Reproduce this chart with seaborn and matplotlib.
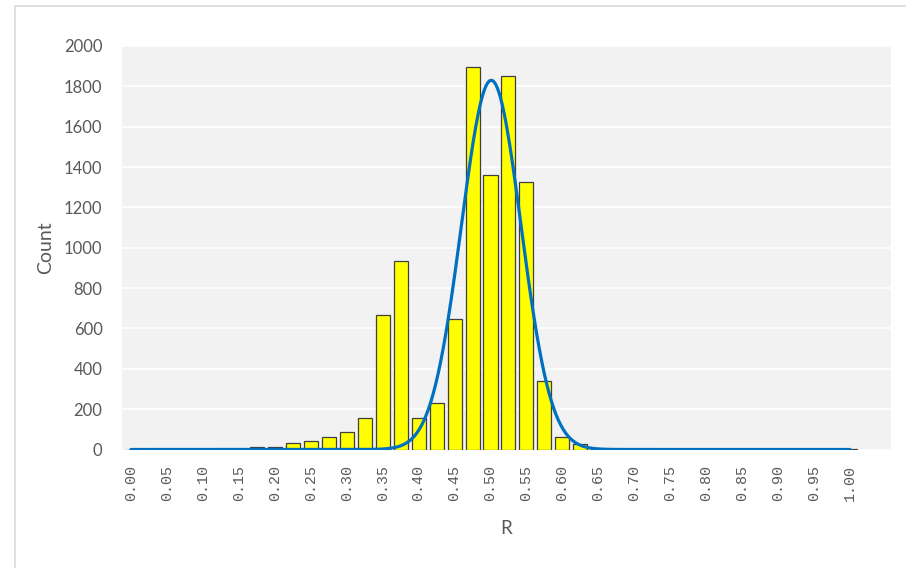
import numpy as np
import pandas as pd
import matplotlib
matplotlib.use("Agg")
import matplotlib.pyplot as plt
from matplotlib.patches import Rectangle
import seaborn as sns

# Histogram of R in bins of 0.025
r_bins = [round(0.025 * i, 3) for i in range(41)]
counts = [0, 0, 0, 0, 0, 0, 3, 10, 12, 32,
          42, 63, 87, 155, 665, 935, 155, 230, 645, 1895,
          1360, 1850, 1325, 340, 60, 27, 3, 1, 1, 0,
          0, 0, 0, 0, 2, 0, 2, 0, 2, 0,
          2]

# Fitted normal curve parameters
fit_mean = 0.501
fit_sd = 0.0415
fit_peak = 1830

x_ticks = [round(0.05 * i, 2) for i in range(21)]
x_tick_labels = [f"{v:.2f}" for v in x_ticks]
y_ticks = list(range(0, 2001, 200))

sns.set_theme(style="white")
plt.rcParams["font.family"] = ["Lato", "DejaVu Sans"]

W, H, DPI = 906, 568, 100
fig = plt.figure(figsize=(W / DPI, H / DPI), dpi=DPI)
fig.patch.set_facecolor("white")

# chart frame
fig.patches.append(Rectangle((15 / W, -0.1), 1.2, 1 - 6 / H + 0.1,
                             transform=fig.transFigure, fill=False,
                             edgecolor="#D9D9D9", linewidth=1.2))

ax = fig.add_axes([122 / W, 1 - 449.5 / H, (891 - 122) / W, (449.5 - 46) / H])
ax.set_facecolor("#F2F2F2")

df = pd.DataFrame({"R": r_bins, "Count": counts})
sns.barplot(data=df, x="R", y="Count", native_scale=True, width=0.78,
            color="#FFFF00", saturation=1, edgecolor="#3F3F3F",
            linewidth=0.9, ax=ax, zorder=3)

xs = np.linspace(0, 1.0, 600)
curve = pd.DataFrame({"R": xs,
                      "Count": fit_peak * np.exp(-0.5 * ((xs - fit_mean) / fit_sd) ** 2)})
sns.lineplot(data=curve, x="R", y="Count", color="#0070C0", linewidth=2.3,
             ax=ax, zorder=4)

ax.set_xlim(-0.0125, 1.057)
ax.set_ylim(0, 2000)
ax.set_yticks(y_ticks)
ax.set_yticklabels([str(v) for v in y_ticks], fontsize=12, color="#595959",
                   family=["Lato", "DejaVu Sans"])
ax.set_xticks(x_ticks)
ax.set_xticklabels(x_tick_labels, rotation=90, fontsize=10.8, color="#595959",
                   family=["Liberation Mono", "DejaVu Sans Mono"])
ax.tick_params(axis="y", length=0, pad=14)
ax.tick_params(axis="x", length=0, pad=11)

ax.grid(axis="y", color="white", linewidth=1.2, zorder=0)
ax.set_axisbelow(True)
for s in ax.spines.values():
    s.set_visible(False)

ax.set_xlabel("R", fontsize=13.5, color="#595959", labelpad=14)
ax.set_ylabel("Count", fontsize=14, color="#595959", labelpad=7)

fig.savefig("out.png", dpi=DPI)
